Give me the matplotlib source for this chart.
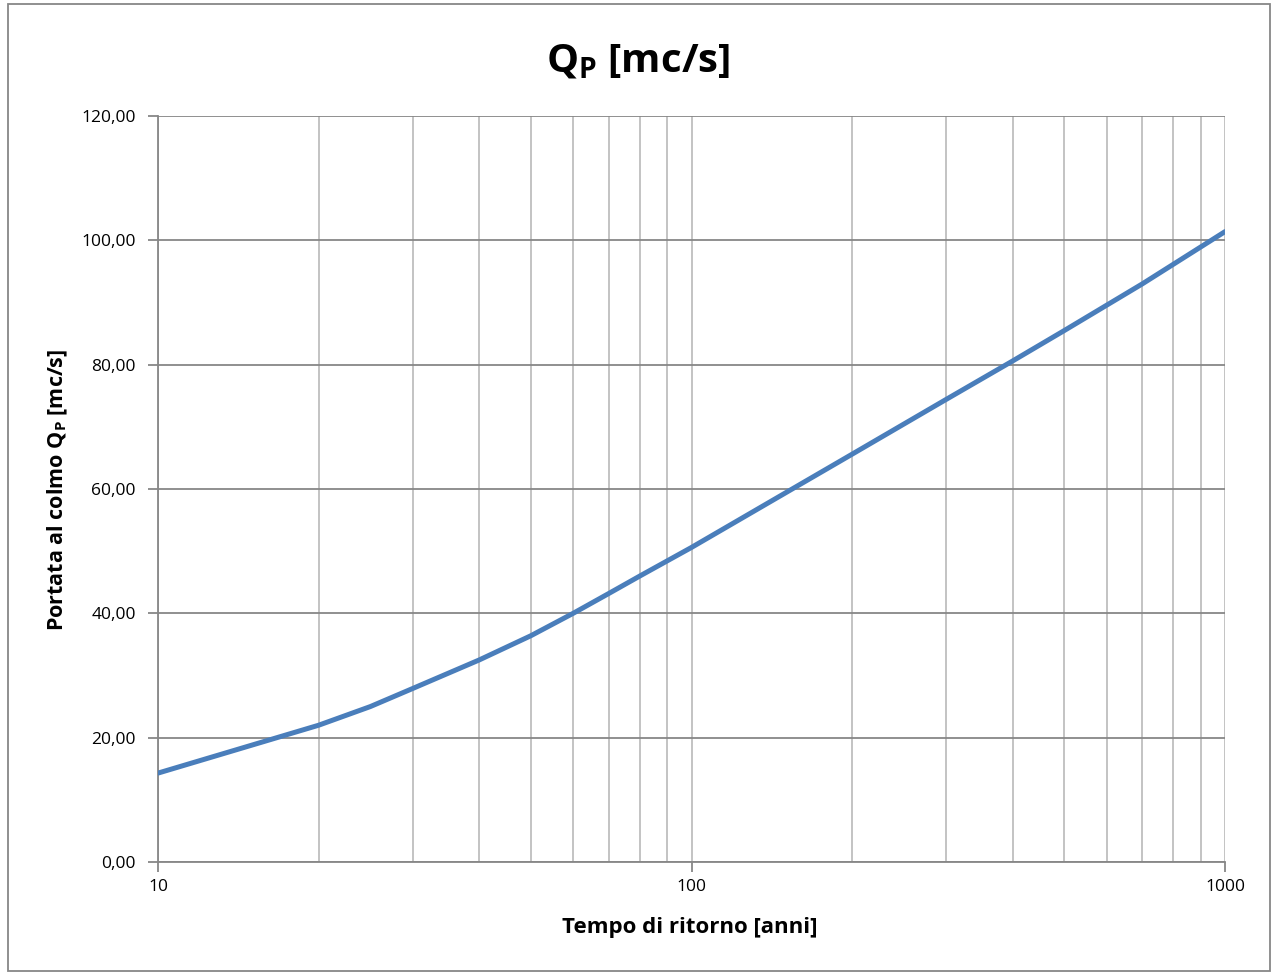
import matplotlib
matplotlib.use("Agg")
import matplotlib.pyplot as plt
from matplotlib.ticker import FixedLocator, FuncFormatter, NullFormatter
from matplotlib.patches import Rectangle

# Data
return_period = [10, 20, 25, 30, 40, 50, 60, 70, 80, 100, 200, 300, 400, 500, 700, 1000]
peak_flow = [14.3, 22.0, 25.0, 27.9, 32.5, 36.4, 40.0, 43.2, 46.0, 50.6, 65.6, 74.4,
             80.6, 85.5, 93.0, 101.4]
y_ticks = [0, 20, 40, 60, 80, 100, 120]
x_ticks = [10, 100, 1000]

plt.rcParams['font.family'] = ['Open Sans', 'DejaVu Sans']
plt.rcParams['mathtext.fontset'] = 'custom'
plt.rcParams['mathtext.rm'] = 'Open Sans'
plt.rcParams['mathtext.bf'] = 'Open Sans:bold'

fig = plt.figure(figsize=(12.73, 9.74), dpi=100)
ax = fig.add_axes([158/1273, 1-862/974, (1225-158)/1273, (862-116)/974])

ax.plot(return_period, peak_flow, color='#4A7EBB', lw=3.6, solid_capstyle='round',
        solid_joinstyle='round', zorder=3)

ax.set_xscale('log')
ax.set_xlim(10, 1000)
ax.set_ylim(0, 120)
ax.yaxis.set_major_locator(FixedLocator(y_ticks))
ax.yaxis.set_major_formatter(FuncFormatter(lambda v, p: f"{v:.2f}".replace('.', ',')))
ax.xaxis.set_major_locator(FixedLocator(x_ticks))
ax.xaxis.set_major_formatter(FuncFormatter(lambda v, p: f"{int(round(v))}"))
ax.xaxis.set_minor_formatter(NullFormatter())

ax.grid(axis='y', which='major', color='#878787', lw=1.3, zorder=1)
ax.grid(axis='x', which='both', color='#BEBEBE', lw=1.3, zorder=1)
ax.tick_params(axis='x', which='minor', length=0)
ax.tick_params(axis='both', which='major', direction='out', length=7, width=1.3, color='#878787',
               labelsize=12.5, labelcolor='black')
ax.tick_params(axis='x', pad=5)
ax.tick_params(axis='y', pad=9)
for s in ['top', 'right']:
    ax.spines[s].set_visible(False)
for s in ['left', 'bottom']:
    ax.spines[s].set_color('#878787')
    ax.spines[s].set_linewidth(1.3)

fig.text(638/1273, 1-62/974, r'Q$_{\mathbf{P}}$ [mc/s]', ha='center', va='center',
         fontsize=29, fontweight='bold')
fig.text(690/1273, 1-928/974, 'Tempo di ritorno [anni]', ha='center', va='center',
         fontsize=16, fontweight='bold')
fig.text(58/1273, 1-490/974, r'Portata al colmo Q$_{\mathbf{P}}$ [mc/s]', ha='center', va='center',
         fontsize=15.5, fontweight='bold', rotation=90)

fig.patches.append(Rectangle((8/1273, 3/974), (1270-8)/1273, (970-3)/974, transform=fig.transFigure,
                             fill=False, edgecolor='#878787', lw=1.3))

fig.savefig('out.png', dpi=100)
